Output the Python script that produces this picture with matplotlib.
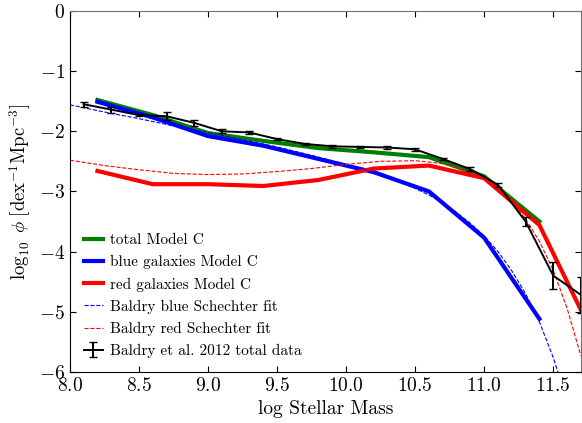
import matplotlib
matplotlib.use("Agg")
import matplotlib.pyplot as plt

plt.rcParams.update({
    'font.family': 'cmr10',
    'mathtext.fontset': 'cm',
    'axes.formatter.use_mathtext': True,
    'xtick.direction': 'in',
    'ytick.direction': 'in',
    'xtick.top': True,
    'ytick.right': True,
    'xtick.major.size': 4,
    'ytick.major.size': 4,
})

# model C curves
model_mass = [8.2, 8.6, 9.0, 9.4, 9.8, 10.2, 10.6, 11.0, 11.4, 11.8]
total_c = [-1.48, -1.73, -2.03, -2.16, -2.28, -2.35, -2.43, -2.75, -3.50]
blue_c = [-1.51, -1.77, -2.08, -2.24, -2.46, -2.68, -3.00, -3.77, -5.12]
red_c = [-2.66, -2.88, -2.88, -2.91, -2.81, -2.62, -2.57, -2.78, -3.56, -5.44]

# Baldry Schechter fits
fit_mass = [8.0, 8.25, 8.5, 8.75, 9.0, 9.25, 9.5, 9.75, 10.0, 10.25, 10.5,
            10.6, 10.7, 10.8, 10.9, 11.0, 11.1, 11.2, 11.3, 11.4, 11.5, 11.6, 11.7]
fit_blue = [-1.56, -1.68, -1.79, -1.91, -2.02, -2.14, -2.26, -2.40, -2.55, -2.72, -2.95,
            -3.06, -3.19, -3.35, -3.53, -3.74, -4.00, -4.32, -4.70, -5.17, -5.76, -6.48, -7.38]
fit_red = [-2.48, -2.57, -2.64, -2.70, -2.72, -2.71, -2.67, -2.62, -2.55, -2.50, -2.49,
           -2.51, -2.54, -2.60, -2.68, -2.79, -2.96, -3.17, -3.46, -3.83, -4.31, -4.94, -5.73]

# Baldry et al. 2012 total data
data_mass = [8.1, 8.3, 8.5, 8.7, 8.9, 9.1, 9.3, 9.5, 9.7, 9.9, 10.1, 10.3, 10.5,
             10.7, 10.9, 11.1, 11.3, 11.5, 11.7]
data_phi = [-1.55, -1.64, -1.73, -1.75, -1.86, -2.00, -2.02, -2.13, -2.21, -2.25, -2.26,
            -2.27, -2.30, -2.46, -2.63, -2.89, -3.50, -4.40, -4.72]
data_err = [0.04, 0.05, 0.02, 0.07, 0.05, 0.03, 0.02, 0.02, 0.02, 0.02, 0.02,
            0.02, 0.02, 0.02, 0.03, 0.03, 0.08, 0.23, 0.30]

fig = plt.figure(figsize=(5.82, 4.23), dpi=100)
ax = fig.add_axes([0.120, 0.121, 0.878, 0.853])

ax.plot(model_mass[:len(total_c)], total_c, color='green', lw=3, label='total Model C')
ax.plot(model_mass[:len(blue_c)], blue_c, color='blue', lw=3, label='blue galaxies Model C')
ax.plot(model_mass, red_c, color='red', lw=3, label='red galaxies Model C')
ax.plot(fit_mass, fit_blue, color='blue', lw=0.8, ls='--', label='Baldry blue Schechter fit')
ax.plot(fit_mass, fit_red, color='red', lw=0.8, ls='--', label='Baldry red Schechter fit')
ax.errorbar(data_mass, data_phi, yerr=data_err, color='black', lw=1.4, capsize=3,
            capthick=1, label='Baldry et al. 2012 total data')

ax.set_xlim(8.0, 11.7)
ax.set_ylim(-6, 0)
ax.set_xticks([8.0, 8.5, 9.0, 9.5, 10.0, 10.5, 11.0, 11.5])
ax.tick_params(labelsize=14)
ax.spines['top'].set_color('0.45')
ax.spines['right'].set_color('0.45')
ax.set_xlabel('log Stellar Mass', fontsize=14)
ax.set_ylabel(r'$\log_{10}\ \phi\ [\mathrm{dex}^{-1}\mathrm{Mpc}^{-3}]$', fontsize=13.5)

ax.legend(loc='lower left', frameon=False, fontsize=11, handlelength=1.25,
          handletextpad=0.5, labelspacing=0.52, borderaxespad=0.5)

fig.savefig('out.png', dpi=100)
